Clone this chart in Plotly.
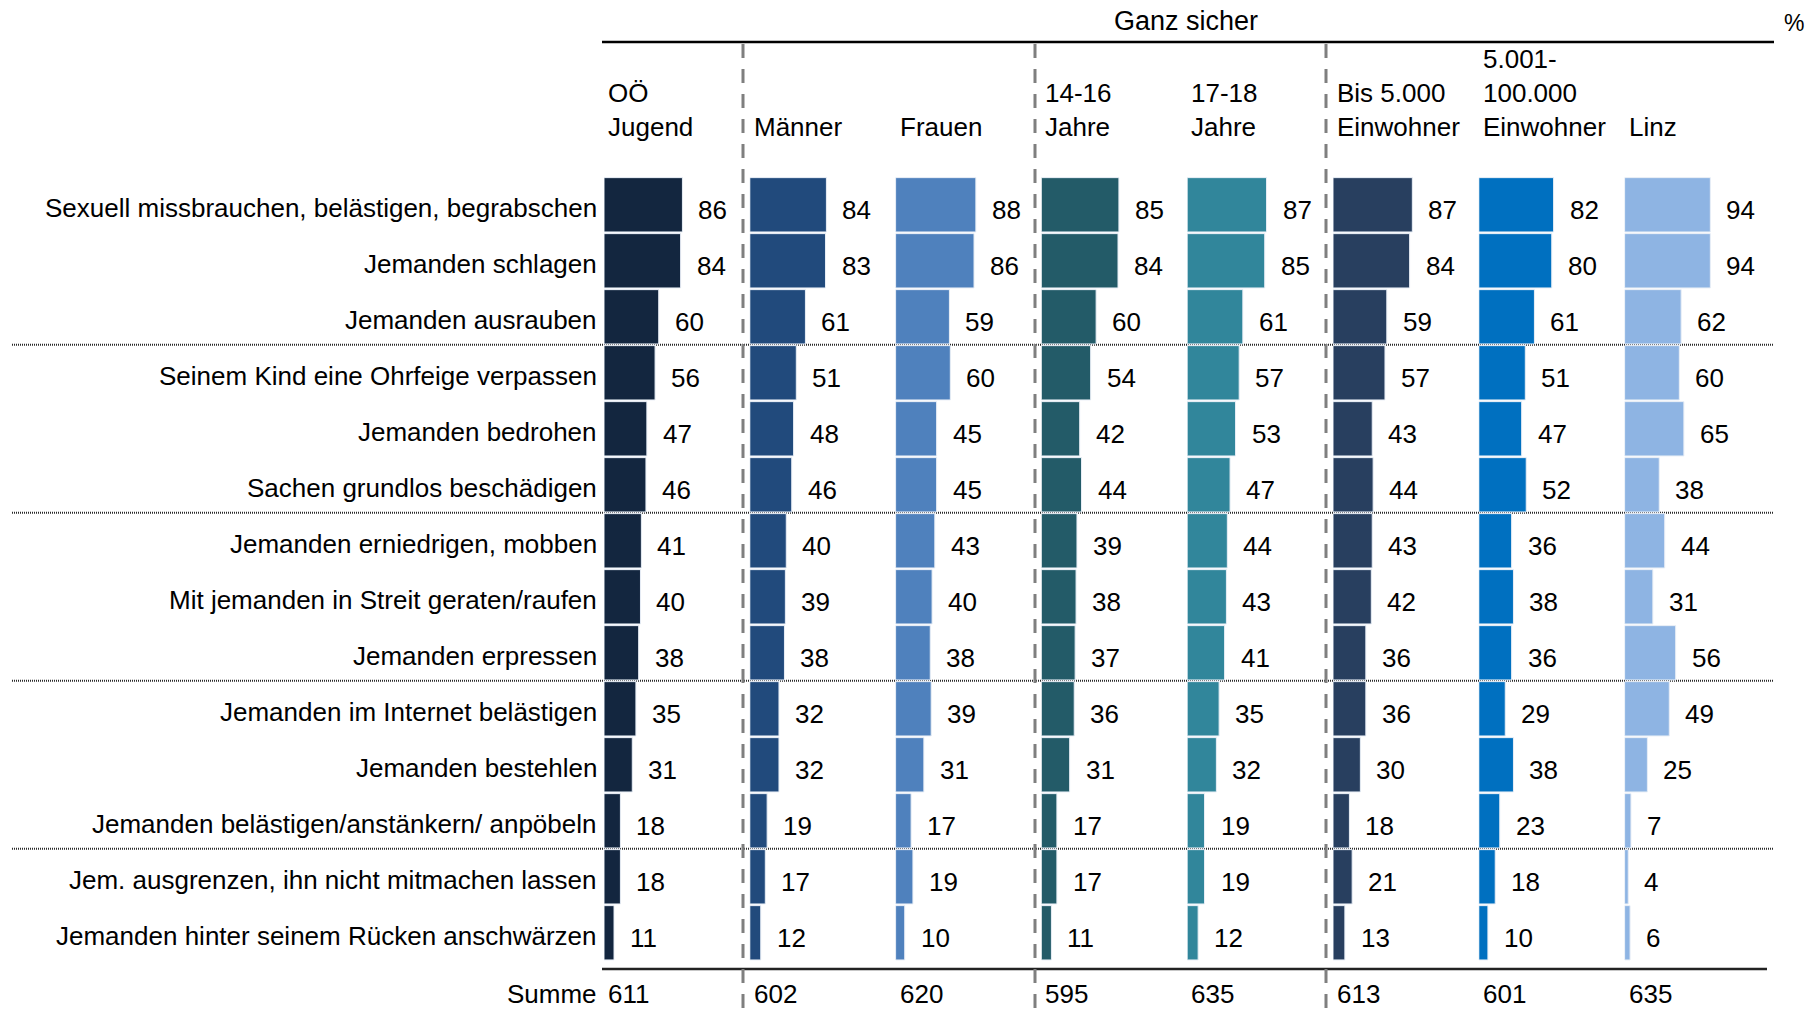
import plotly.graph_objects as go

W, H = 1818, 1011

categories = [
    "Sexuell missbrauchen, belästigen, begrabschen",
    "Jemanden schlagen",
    "Jemanden ausrauben",
    "Seinem Kind eine Ohrfeige verpassen",
    "Jemanden bedrohen",
    "Sachen grundlos beschädigen",
    "Jemanden erniedrigen, mobben",
    "Mit jemanden in Streit geraten/raufen",
    "Jemanden erpressen",
    "Jemanden im Internet belästigen",
    "Jemanden bestehlen",
    "Jemanden belästigen/anstänkern/ anpöbeln",
    "Jem. ausgrenzen, ihn nicht mitmachen lassen",
    "Jemanden hinter seinem Rücken anschwärzen",
]

oe_jugend = [86, 84, 60, 56, 47, 46, 41, 40, 38, 35, 31, 18, 18, 11]
maenner   = [84, 83, 61, 51, 48, 46, 40, 39, 38, 32, 32, 19, 17, 12]
frauen    = [88, 86, 59, 60, 45, 45, 43, 40, 38, 39, 31, 17, 19, 10]
j14_16    = [85, 84, 60, 54, 42, 44, 39, 38, 37, 36, 31, 17, 17, 11]
j17_18    = [87, 85, 61, 57, 53, 47, 44, 43, 41, 35, 32, 19, 19, 12]
bis_5000  = [87, 84, 59, 57, 43, 44, 43, 42, 36, 36, 30, 18, 21, 13]
bis_100000 = [82, 80, 61, 51, 47, 52, 36, 38, 36, 29, 38, 23, 18, 10]
linz      = [94, 94, 62, 60, 65, 38, 44, 31, 56, 49, 25, 7, 4, 6]

column_headers = ["OÖ<br>Jugend", "Männer", "Frauen", "14-16<br>Jahre", "17-18<br>Jahre",
                  "Bis 5.000<br>Einwohner", "5.001-<br>100.000<br>Einwohner", "Linz"]
summe = [611, 602, 620, 595, 635, 613, 601, 635]

series = [oe_jugend, maenner, frauen, j14_16, j17_18, bis_5000, bis_100000, linz]
colors = ["#13263f", "#214a7c", "#4f81bd", "#235b68", "#31869b", "#283f5f", "#0070c0", "#8eb4e3"]

FONT = "Liberation Sans, Arial, sans-serif"
FS = 26

# layout geometry (pixels)
col_start0 = 604.0
col_step = 145.8
col_w = 140.0
px_per_unit = 0.912
row0 = 204.8
row_step = 56.0

def px_x(p):
    return p / W

def px_y(p):
    return 1 - p / H

fig = go.Figure()
layout_axes = {}
for k, (vals, col) in enumerate(zip(series, colors)):
    ax = "x" if k == 0 else f"x{k+1}"
    fig.add_trace(go.Bar(
        x=vals, y=categories, orientation="h",
        xaxis=ax, yaxis="y",
        marker=dict(color=col, line=dict(color="#e8eef6", width=1)),
        hoverinfo="x+y", showlegend=False,
    ))
    start = col_start0 + k * col_step
    key = "xaxis" if k == 0 else f"xaxis{k+1}"
    layout_axes[key] = dict(
        domain=[px_x(start), px_x(start + col_w)],
        range=[0, col_w / px_per_unit],
        visible=False, fixedrange=True, anchor="y",
    )
    for c, v in zip(categories, vals):
        fig.add_annotation(x=v, y=c, xref=ax, yref="y", text=str(v),
                           xanchor="left", yanchor="middle", xshift=14, yshift=-5,
                           showarrow=False, font=dict(family=FONT, size=FS, color="black"))
    # header
    fig.add_annotation(x=px_x(start + 2), y=px_y(144), xref="paper", yref="paper",
                       text=column_headers[k], xanchor="left", yanchor="bottom", align="left",
                       showarrow=False, font=dict(family=FONT, size=FS, color="black"))
    # summe
    fig.add_annotation(x=px_x(start + 2), y=px_y(994), xref="paper", yref="paper",
                       text=str(summe[k]), xanchor="left", yanchor="middle",
                       showarrow=False, font=dict(family=FONT, size=FS, color="black"))

# row labels
for c in categories:
    fig.add_annotation(x=px_x(599), y=c, xref="paper", yref="y", text=c,
                       xanchor="right", yanchor="middle", yshift=-3,
                       showarrow=False, font=dict(family=FONT, size=FS, color="black"))

fig.add_annotation(x=px_x(599), y=px_y(994), xref="paper", yref="paper", text="Summe",
                   xanchor="right", yanchor="middle", showarrow=False,
                   font=dict(family=FONT, size=FS, color="black"))
fig.add_annotation(x=px_x(1186), y=px_y(21), xref="paper", yref="paper", text="Ganz sicher",
                   xanchor="center", yanchor="middle", showarrow=False,
                   font=dict(family=FONT, size=FS + 1, color="black"))
fig.add_annotation(x=px_x(1794), y=px_y(23), xref="paper", yref="paper", text="%",
                   xanchor="center", yanchor="middle", showarrow=False,
                   font=dict(family=FONT, size=FS - 3, color="black"))

y_top = -row0 / row_step
y_bot = (H - row0) / row_step

shapes = []
# top and bottom lines
shapes.append(dict(type="line", xref="paper", yref="paper", x0=px_x(602), x1=px_x(1774),
                   y0=px_y(42), y1=px_y(42), line=dict(color="black", width=2.5)))
shapes.append(dict(type="line", xref="paper", yref="paper", x0=px_x(602), x1=px_x(1767),
                   y0=px_y(969), y1=px_y(969), line=dict(color="#222222", width=2.5)))
# dashed group separators
for xp in [743, 1035, 1326]:
    shapes.append(dict(type="line", xref="paper", yref="paper", x0=px_x(xp), x1=px_x(xp),
                       y0=px_y(44), y1=px_y(1010),
                       line=dict(color="#7f7f7f", width=3, dash="14px,11px")))
# dotted row-group separators
for yb in [2.5, 5.5, 8.5, 11.5]:
    shapes.append(dict(type="line", xref="paper", yref="y", x0=px_x(12), x1=px_x(1774),
                       y0=yb, y1=yb, layer="below",
                       line=dict(color="#2a2a2a", width=2, dash="1px,1px")))

fig.update_layout(
    width=W, height=H,
    margin=dict(l=0, r=0, t=0, b=0),
    paper_bgcolor="white", plot_bgcolor="rgba(0,0,0,0)",
    bargap=0.03,
    yaxis=dict(type="category", categoryorder="array", categoryarray=categories,
               range=[y_bot, y_top], visible=False, fixedrange=True, domain=[0, 1]),
    shapes=shapes,
    font=dict(family=FONT, size=FS, color="black"),
    **layout_axes,
)

fig.write_html(
    "out.html",
    config={"displayModeBar": False},
    post_script="document.body.style.margin='0';document.body.style.overflow='hidden';",
)
